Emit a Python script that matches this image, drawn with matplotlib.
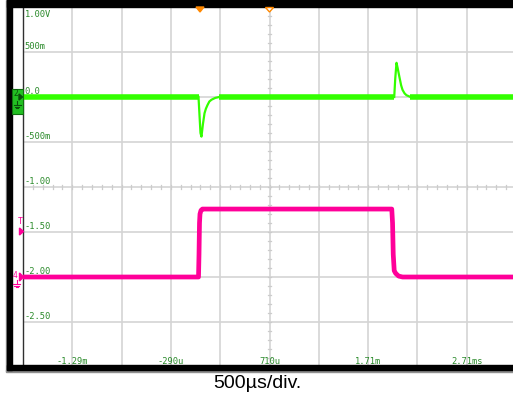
import matplotlib.pyplot as plt
from matplotlib.patches import Rectangle, Polygon
from matplotlib.lines import Line2D

# screen scale: 500 us/div horizontally, 0.5 V/div vertically (display volts)
grid_times = [-1790, -1290, -790, -290, 210, 710, 1210, 1710, 2210, 2710, 3210]
grid_volts = [1.0, 0.5, 0.0, -0.5, -1.0, -1.5, -2.0, -2.5, -3.0]
x_labels = ["-1.29m", "-290u", "710u", "1.71m", "2.71ms"]
x_label_times = [-1290, -290, 710, 1710, 2710]
y_labels = ["1.00V", "500m", "0.0", "-500m", "-1.00", "-1.50", "-2.00", "-2.50"]
y_label_volts = [1.0, 0.5, 0.0, -0.5, -1.0, -1.5, -2.0, -2.5]

# green channel (thick baseline pieces + thin transients)
green_base1_t = [-1790, -10]
green_base1_v = [0.0, 0.0]
green_base2_t = [200, 1975]
green_base2_v = [0.0, 0.0]
green_base3_t = [2140, 3300]
green_base3_v = [0.0, 0.0]
green_dip_t = [-10, 0, 10, 20, 35, 51, 65, 81, 100, 122, 160, 200]
green_dip_v = [0.0, -0.2, -0.40, -0.44, -0.30, -0.18, -0.13, -0.09, -0.05, -0.03, -0.01, 0.0]
green_bump_t = [1975, 1985, 1998, 2010, 2028, 2045, 2059, 2080, 2099, 2120, 2140]
green_bump_v = [0.0, 0.2, 0.38, 0.32, 0.22, 0.13, 0.08, 0.04, 0.02, 0.01, 0.0]

# pink channel
pink_t = [-1790, -10, -5, 0, 5, 15, 30, 1950, 1958, 1965, 1975, 1990, 2020, 2060, 3300]
pink_v = [-2.0, -2.0, -1.75, -1.40, -1.30, -1.26, -1.245, -1.245, -1.40, -1.75, -1.93, -1.96, -1.99, -2.0, -2.0]

W, H = 513, 398
fig = plt.figure(figsize=(W / 100, H / 100), dpi=100)
ax = fig.add_axes([23 / W, (H - 367) / H, 493 / W, 360 / H])
ax.set_xlim(-1790, 3210)
ax.set_ylim(-3.0, 1.0)

grid_c = "#d4d4d4"
for t in grid_times:
    ax.axvline(t, color=grid_c, lw=1.2, zorder=0)
for v in grid_volts:
    ax.axhline(v, color=grid_c, lw=1.2, zorder=0)

# minor ticks on the centre lines
for k in range(-20, 21):
    v = -1.0 + k * 0.1
    ax.plot([690, 730], [v, v], color="#cccccc", lw=0.9, zorder=0)
for k in range(-25, 26):
    t = 710 + k * 100
    ax.plot([t, t], [-1.025, -0.975], color="#cccccc", lw=0.9, zorder=0)

ax.set_xticks([])
ax.set_yticks([])
for s in ["top", "right", "bottom"]:
    ax.spines[s].set_visible(False)
ax.spines["left"].set_color("#303030")
ax.spines["left"].set_linewidth(1.0)

green = "#33ff00"
pink = "#ff0099"
ax.plot(green_base1_t, green_base1_v, color=green, lw=4.0, solid_capstyle="butt", zorder=3)
ax.plot(green_base2_t, green_base2_v, color=green, lw=4.0, solid_capstyle="butt", zorder=3)
ax.plot(green_base3_t, green_base3_v, color=green, lw=4.0, solid_capstyle="butt", zorder=3)
ax.plot(green_dip_t, green_dip_v, color=green, lw=1.6, zorder=3)
ax.plot(green_bump_t, green_bump_v, color=green, lw=1.6, zorder=3)
ax.plot(pink_t, pink_v, color=pink, lw=3.4, zorder=3)

lab_c = "#2a8a2a"
for lab, v in zip(y_labels, y_label_volts):
    if v == 1.0:
        ax.text(-1772, 0.922, lab, color=lab_c, fontsize=6.3, family="DejaVu Sans Mono",
                ha="left", va="center", zorder=4)
    else:
        ax.text(-1772, v + 0.015, lab, color=lab_c, fontsize=6.3, family="DejaVu Sans Mono",
                ha="left", va="bottom", zorder=4)
for lab, t in zip(x_labels, x_label_times):
    ax.text(t, -2.935, lab, color=lab_c, fontsize=6.3, family="DejaVu Sans Mono",
            ha="center", va="center", zorder=4)


def fx(x):
    return x / W


def fy(y):
    return 1 - y / H


def ground(x, y, c):
    # small ground symbol: stem + three bars
    fig.lines.append(Line2D([fx(x), fx(x)], [fy(y), fy(y + 4)], transform=fig.transFigure,
                            color=c, lw=0.8, zorder=8))
    for i, hw in enumerate([3.5, 2.2, 1.0]):
        yy = y + 4 + i * 1.6
        fig.lines.append(Line2D([fx(x - hw), fx(x + hw)], [fy(yy), fy(yy)], transform=fig.transFigure,
                                color=c, lw=0.8, zorder=8))


# black frame
fig.patches.append(Rectangle((fx(6), fy(371)), 1.5 / W, 371 / H, transform=fig.transFigure,
                             color="#909090", zorder=5))
fig.patches.append(Rectangle((fx(6), fy(372)), 507 / W, 2 / H, transform=fig.transFigure,
                             color="#909090", zorder=5))
fig.patches.append(Rectangle((fx(7), fy(370)), 5 / W, 370 / H, transform=fig.transFigure,
                             color="black", zorder=6))
fig.patches.append(Rectangle((fx(7), fy(7)), 506 / W, 7 / H, transform=fig.transFigure,
                             color="black", zorder=6))
fig.patches.append(Rectangle((fx(7), fy(370)), 506 / W, 5 / H, transform=fig.transFigure,
                             color="black", zorder=6))

# trigger markers on top
orange = "#ff8800"
fig.patches.append(Polygon([(fx(196), fy(7)), (fx(204), fy(7)), (fx(200), fy(12))], closed=True,
                           transform=fig.transFigure, color=orange, zorder=7))
fig.patches.append(Polygon([(fx(265.5), fy(7.5)), (fx(273.5), fy(7.5)), (fx(269.5), fy(12))], closed=True,
                           transform=fig.transFigure, facecolor="white", edgecolor=orange, lw=1,
                           zorder=7))

# channel 2 marker
fig.patches.append(Rectangle((fx(12), fy(114)), 11 / W, 25 / H, transform=fig.transFigure,
                             facecolor="#22c022", edgecolor="#107010", lw=0.8, zorder=7))
fig.text(fx(15.5), fy(94), "2", color="#0a500a", fontsize=5.5, ha="center", va="center", zorder=8)
fig.patches.append(Polygon([(fx(19), fy(94)), (fx(22.5), fy(97)), (fx(19), fy(100))], closed=True,
                           transform=fig.transFigure, color="#0a500a", zorder=8))
ground(17, 101, "#0a500a")

# pink trigger level and ground markers
fig.text(fx(20), fy(222), "T", color=pink, fontsize=6, ha="center", va="center", zorder=8,
         family="DejaVu Sans Mono")
fig.patches.append(Polygon([(fx(19.5), fy(228)), (fx(23.5), fy(231.5)), (fx(19.5), fy(235))], closed=True,
                           transform=fig.transFigure, color=pink, zorder=8))
fig.text(fx(15.5), fy(276), "4", color=pink, fontsize=5.5, ha="center", va="center", zorder=8)
fig.patches.append(Polygon([(fx(19.5), fy(273)), (fx(23.5), fy(277)), (fx(19.5), fy(281))], closed=True,
                           transform=fig.transFigure, color=pink, zorder=8))
ground(16.5, 280, pink)

fig.text(fx(257), fy(388), "500µs/div.", color="black", fontsize=14.0,
         family="Liberation Sans", ha="center", va="baseline")

fig.savefig("out.png", dpi=100)
